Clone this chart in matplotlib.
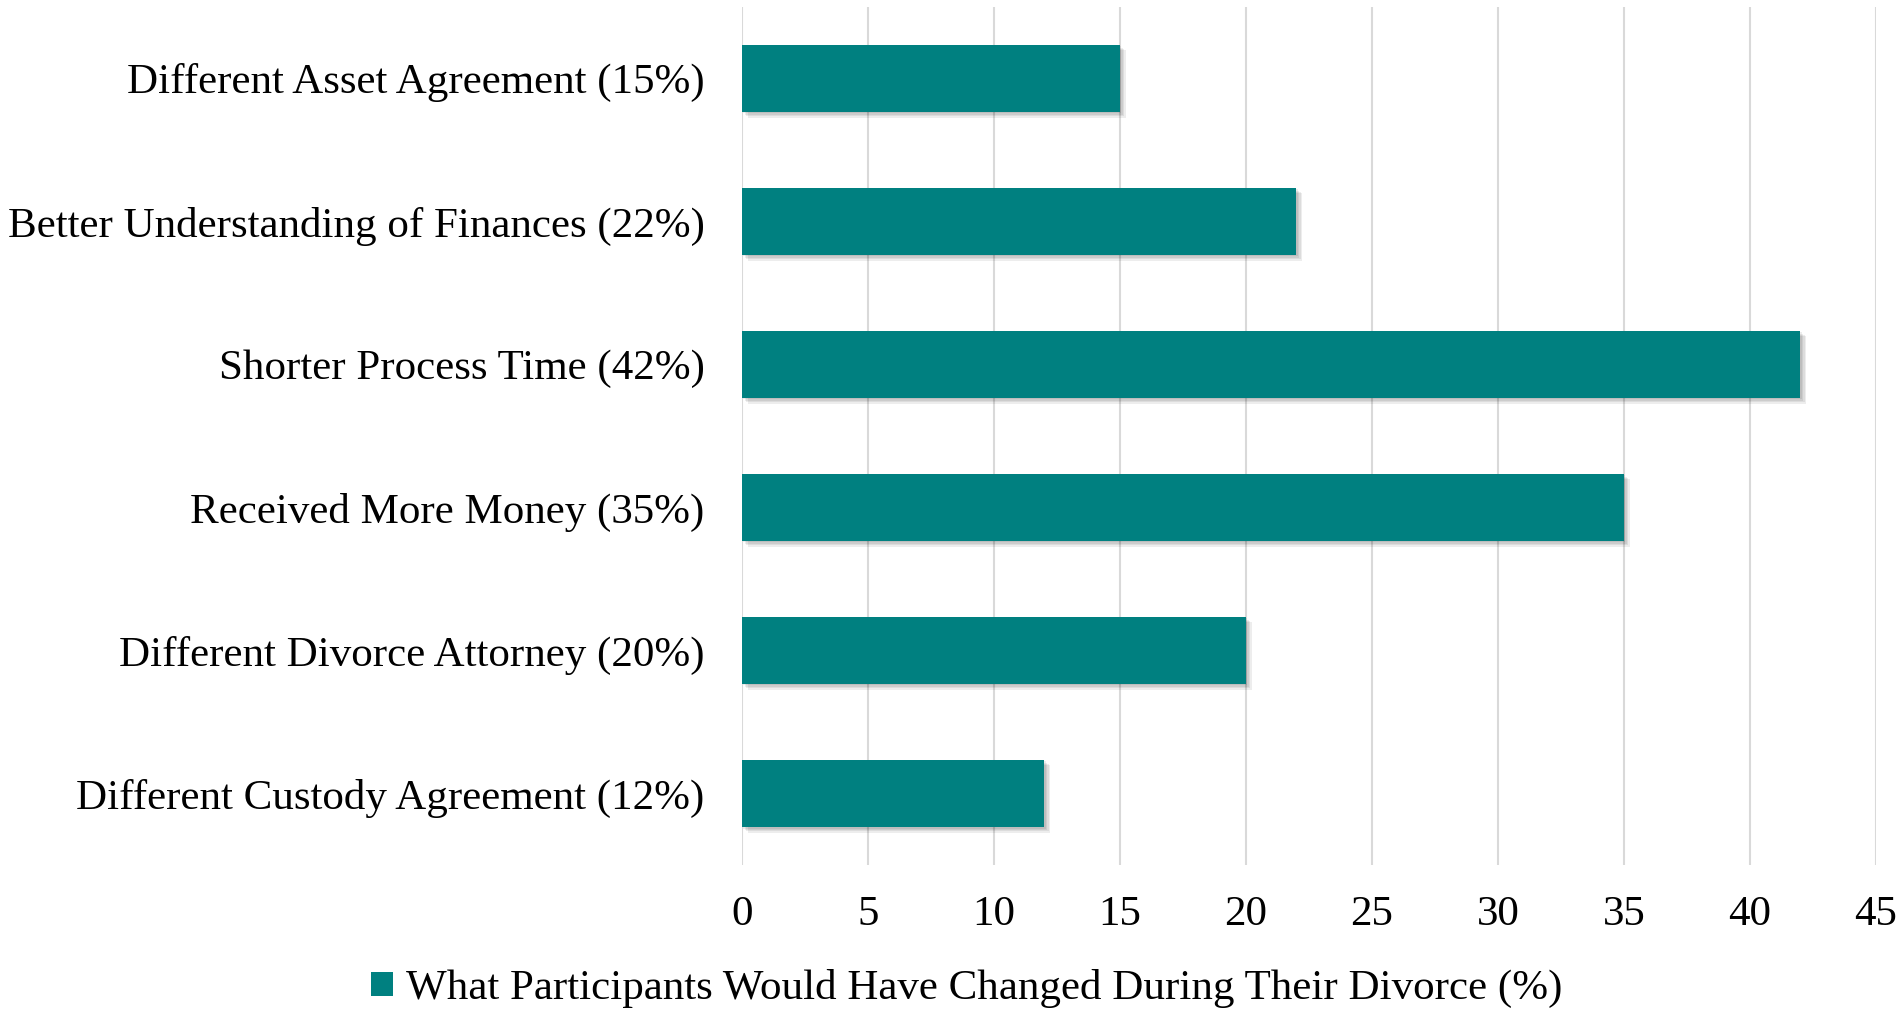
import matplotlib.pyplot as plt
import matplotlib.patheffects as pe
from matplotlib.patches import Patch

# survey responses, top to bottom as listed
categories = [
    "Different Asset Agreement (15%)",
    "Better Understanding of Finances (22%)",
    "Shorter Process Time (42%)",
    "Received More Money (35%)",
    "Different Divorce Attorney (20%)",
    "Different Custody Agreement (12%)",
]
values = [15, 22, 42, 35, 20, 12]
xticks = [0, 5, 10, 15, 20, 25, 30, 35, 40, 45]
series_name = "What Participants Would Have Changed During Their Divorce (%)"

teal = "#008080"
plt.rcParams["font.family"] = ["Liberation Serif", "DejaVu Serif"]

fig = plt.figure(figsize=(19.03, 10.09), dpi=100)
ax = fig.add_axes([0.3899, 0.1427, 0.5959, 0.8504])

pos = list(range(len(categories)))
# soft drop shadow built from a few faint offset copies
shadow = [pe.SimplePatchShadow(offset=(o, -o), shadow_rgbFace="black", alpha=0.07)
          for o in (1, 2, 3, 4)] + [pe.Normal()]
bars = ax.barh(pos, values, height=0.47, color=teal, zorder=3)
for b in bars:
    b.set_path_effects(shadow)

ax.set_yticks(pos)
ax.set_yticklabels(categories)
ax.set_ylim(len(categories) - 0.5, -0.5)
ax.set_xlim(0, 45)
ax.set_xticks(xticks)

ax.grid(axis="x", color="#d9d9d9", linewidth=1.5, zorder=0)
ax.set_axisbelow(True)
for s in ax.spines.values():
    s.set_visible(False)
ax.tick_params(axis="both", length=0, labelsize=31)
ax.tick_params(axis="x", pad=22)
ax.tick_params(axis="y", pad=27)

fig.legend(handles=[Patch(facecolor=teal)], labels=[series_name], loc="center",
           bbox_to_anchor=(0.508, 0.02), frameon=False, fontsize=31,
           handlelength=0.5, handleheight=0.5, handletextpad=0.3)

fig.savefig("out.png", dpi=100, facecolor="white")
